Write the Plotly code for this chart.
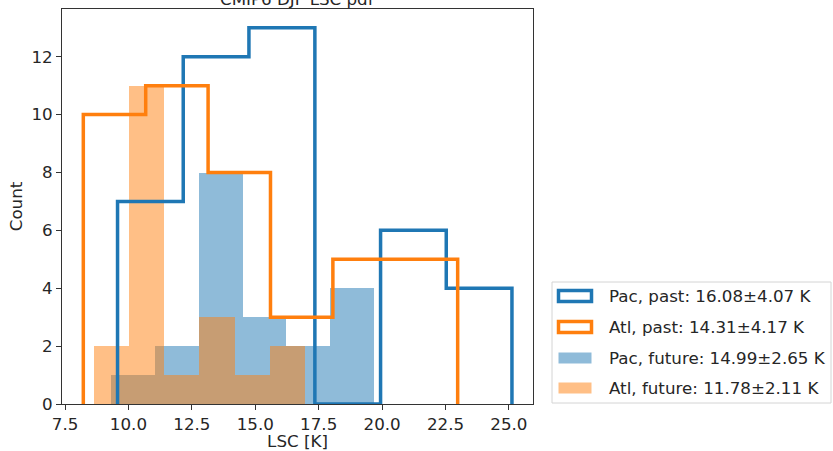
import plotly.graph_objects as go

# ---- data ----
pac_past_edges = [9.57, 12.16, 14.75, 17.35, 19.94, 22.53, 25.12]
pac_past_counts = [7, 12, 13, 0, 6, 4]

atl_past_edges = [8.22, 10.68, 13.14, 15.60, 18.06, 20.52, 22.98]
atl_past_counts = [10, 11, 8, 3, 5, 5]

pac_future_edges = [9.31, 11.04, 12.77, 14.50, 16.22, 17.95, 19.68]
pac_future_counts = [1, 2, 8, 3, 2, 4]

atl_future_edges = [8.64, 10.03, 11.42, 12.80, 14.19, 15.58, 16.96]
atl_future_counts = [2, 11, 1, 3, 1, 2]

labels = ["Pac, past: 16.08±4.07 K", "Atl, past: 14.31±4.17 K",
          "Pac, future: 14.99±2.65 K", "Atl, future: 11.78±2.11 K"]
title_text = "CMIP6 DJF LSC pdf"
x_ticks = [7.5, 10.0, 12.5, 15.0, 17.5, 20.0, 22.5, 25.0]
y_ticks = [0, 2, 4, 6, 8, 10, 12]

BLUE = "#1f77b4"
ORANGE = "#ff7f0e"
FONT = "DejaVu Sans"
FS = 16.7

W, H = 833, 451
L, R, T, B = 62, 533, 9, 404  # plot area in pixels


def step_xy(edges, counts):
    xs, ys = [edges[0]], [0]
    for i, c in enumerate(counts):
        xs += [edges[i], edges[i + 1]]
        ys += [c, c]
    xs.append(edges[-1])
    ys.append(0)
    return xs, ys


def bar_trace(edges, counts, color, name):
    widths = [edges[i + 1] - edges[i] for i in range(len(counts))]
    return go.Bar(x=edges[:-1], y=counts, width=widths, offset=0,
                  marker=dict(color=color, opacity=0.5, line=dict(width=0)),
                  name=name, showlegend=False)


fig = go.Figure()
fig.add_trace(bar_trace(pac_future_edges, pac_future_counts, BLUE, labels[2]))
fig.add_trace(bar_trace(atl_future_edges, atl_future_counts, ORANGE, labels[3]))
for edges, counts, color, name in [(pac_past_edges, pac_past_counts, BLUE, labels[0]),
                                   (atl_past_edges, atl_past_counts, ORANGE, labels[1])]:
    xs, ys = step_xy(edges, counts)
    fig.add_trace(go.Scatter(x=xs, y=ys, mode="lines", name=name, showlegend=False,
                             line=dict(color=color, width=3.5)))


def px2paper(px, py):
    return (px - L) / (R - L), (B - py) / (B - T)


shapes = []
annotations = []
# legend frame
x0, y0 = px2paper(552, 282)
x1, y1 = px2paper(831, 403)
shapes.append(dict(type="rect", xref="paper", yref="paper", x0=x0, x1=x1, y0=y1, y1=y0,
                   line=dict(color="#d4d4d4", width=1), fillcolor="white", layer="below"))
rows = [296, 327, 358, 388]
styles = [("outline", BLUE), ("outline", ORANGE), ("fill", BLUE), ("fill", ORANGE)]
for (kind, color), cy, lab in zip(styles, rows, labels):
    hx0, hy0 = px2paper(558.5, cy - 5.5)
    hx1, hy1 = px2paper(591.5, cy + 5.5)
    if kind == "outline":
        shapes.append(dict(type="rect", xref="paper", yref="paper", x0=hx0, x1=hx1,
                           y0=hy1, y1=hy0, line=dict(color=color, width=3.5),
                           fillcolor="rgba(0,0,0,0)"))
    else:
        shapes.append(dict(type="rect", xref="paper", yref="paper", x0=hx0, x1=hx1,
                           y0=hy1, y1=hy0, line=dict(width=0),
                           fillcolor=color, opacity=0.5))
    tx, ty = px2paper(607, cy)
    annotations.append(dict(text=lab, xref="paper", yref="paper", x=tx, y=ty,
                            xanchor="left", yanchor="middle", showarrow=False,
                            font=dict(family=FONT, size=FS, color="#262626")))

# title (mostly cut off at the top, as in the reference)
annotations.append(dict(text=title_text, xref="paper", yref="paper", x=0.5, y=1,
                        xanchor="center", yanchor="bottom", yshift=-2, showarrow=False,
                        font=dict(family=FONT, size=FS, color="#262626")))

fig.update_layout(
    width=W, height=H,
    margin=dict(l=L, r=W - R, t=T, b=H - B, pad=0),
    paper_bgcolor="white", plot_bgcolor="white",
    barmode="overlay", bargap=0,
    showlegend=False,
    font=dict(family=FONT, size=FS, color="#262626"),
    shapes=shapes, annotations=annotations,
    xaxis=dict(range=[7.38, 25.95], tickvals=x_ticks,
               ticktext=[f"{v:.1f}" for v in x_ticks], automargin=False,
               showgrid=False, zeroline=False, showline=True, mirror=True,
               linecolor="#333333", linewidth=1, ticks="outside", ticklen=5,
               tickcolor="#333333", tickwidth=1,
               title=dict(text="LSC [K]", standoff=1,
                          font=dict(family=FONT, size=FS, color="#262626"))),
    yaxis=dict(range=[0, 13.65], tickvals=y_ticks, automargin=False,
               showgrid=False, zeroline=False, showline=True, mirror=True,
               linecolor="#333333", linewidth=1, ticks="outside", ticklen=5,
               tickcolor="#333333", tickwidth=1,
               title=dict(text="Count", standoff=4,
                          font=dict(family=FONT, size=FS, color="#262626"))),
)

fig.write_html("out.html", config={"displayModeBar": False},
               post_script="document.body.style.margin='0';document.body.style.overflow='hidden';")
